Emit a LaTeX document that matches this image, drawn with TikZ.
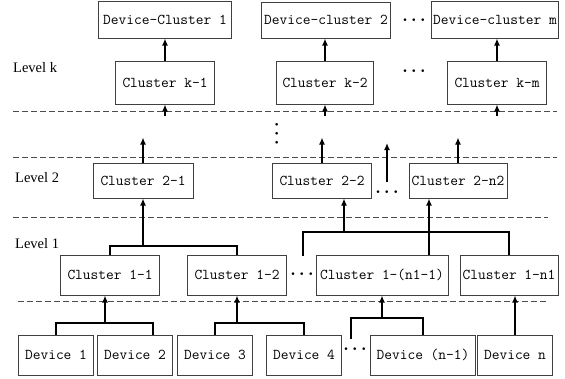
\documentclass[tikz,border=0pt]{standalone}
\usepackage{fontspec}
\newfontfamily\levelfont{Liberation Serif}
\usetikzlibrary{arrows.meta}

\tikzset{
  box/.style={draw=black!75, line width=1pt, inner sep=0pt,
    minimum height=40pt, font=\ttfamily\fontsize{15}{18}\selectfont},
  up/.style={-{Latex[length=7pt,width=6pt]}, line width=1.9pt},
  bar/.style={line width=1.9pt},
  sep/.style={black!70, line width=0.9pt, dash pattern=on 6pt off 3pt},
  lvl/.style={font=\levelfont\fontsize{14.5}{16}\selectfont, anchor=west, inner sep=0pt},
  more/.style={font=\fontsize{19}{20}\selectfont\boldmath, inner sep=0pt}
}

\begin{document}
\begin{tikzpicture}[x=1pt, y=-1pt]
\useasboundingbox (0,0) rectangle (565,378);

% level separators
\draw[sep] (13,111) -- (557,111);
\draw[sep] (13,157) -- (557,157);
\draw[sep] (13,217) -- (548,217);
\draw[sep] (18,301) -- (547,301);

\node[lvl] (lk) at (13,68) {Level k};
\node[lvl] (l2) at (15,178) {Level 2};
\node[lvl] (l1) at (15,244) {Level 1};

% device clusters
\node[box, minimum width=133pt, minimum height=37pt] (dc1) at (165,19.5) {Device-Cluster 1};
\node[box, minimum width=129pt, minimum height=36pt] (dc2) at (326,20) {Device-cluster 2};
\node[box, minimum width=127pt, minimum height=37pt] (dcm) at (495,19.5) {Device-cluster m};
\node[more] (dt) at (414,20) {$\cdots$};

% level k
\node[box, minimum width=99pt, minimum height=43pt] (ck1) at (165,82.5) {Cluster k-1};
\node[box, minimum width=97pt, minimum height=43pt] (ck2) at (325,82.5) {Cluster k-2};
\node[box, minimum width=99pt, minimum height=43pt] (ckm) at (497,82.5) {Cluster k-m};
\node[more] (kt) at (414,71) {$\cdots$};

\draw[up] (ck1.north) -- (ck1.north |- dc1.south);
\draw[up] (ck2.north) -- (ck2.north |- dc2.south);
\draw[up] (ckm.north) -- (ckm.north |- dcm.south);

\coordinate (ik1) at (165,116);
\coordinate (ik2) at (325,116);
\coordinate (ikm) at (497,116);
\draw[up] (ik1) -- (ik1 |- ck1.south);
\draw[up] (ik2) -- (ik2 |- ck2.south);
\draw[up] (ikm) -- (ikm |- ck1.south);

\node[more, rotate=90] (vt) at (277,134) {$\cdots$};

% level 2
\node[box, minimum width=100pt, minimum height=35pt] (c21) at (143,180.5) {Cluster 2-1};
\node[box, minimum width=99pt, minimum height=35pt] (c22) at (322,180.5) {Cluster 2-2};
\node[box, minimum width=98pt, minimum height=35pt] (c2n) at (458,180.5) {Cluster 2-n2};
\node[more] (t2) at (387,192) {$\cdots$};

\draw[up] (c21.north) -- ++(0,-25);
\draw[up] (c22.north) -- ++(0,-25);
\draw[up] (c2n.north) -- ++(0,-25);
\coordinate (om) at (387,182);
\draw[up] (om) -- ++(0,-39);

% level 1
\node[box, minimum width=99pt] (c11) at (110,275) {Cluster 1-1};
\node[box, minimum width=99pt] (c12) at (237,275) {Cluster 1-2};
\node[box, minimum width=132pt] (c1m) at (382,275) {Cluster 1-(n1-1)};
\node[box, minimum width=98pt] (c1n) at (509,275) {Cluster 1-n1};
\node[more] (t1) at (302,274) {$\cdots$};

\coordinate (j21) at (143,246);
\draw[bar] (c11.north) |- (j21) -| (c12.north);
\draw[up] (j21) -- (c21.south);

\coordinate (jl) at (303,256);
\coordinate (j22) at (344,232);
\coordinate (j2n) at (429,232);
\draw[bar] (jl) |- (c1n.north |- 0,232) -- (c1n.north);
\draw[up] (j22) -- (j22 |- c22.south);
\draw[up] (j2n |- c1m.north) -- (j2n |- c2n.south);

% devices
\node[box, minimum width=75pt] (d1) at (56,355) {Device 1};
\node[box, minimum width=75pt] (d2) at (135,355) {Device 2};
\node[box, minimum width=75pt] (d3) at (215,355) {Device 3};
\node[box, minimum width=75pt] (d4) at (304,355) {Device 4};
\node[box, minimum width=105pt] (dm) at (423,355) {Device (n-1)};
\node[box, minimum width=75pt] (dn) at (515,355) {Device n};
\node[more] (td) at (355,349) {$\cdots$};

\draw[bar] (d1.north) |- (153,323) -- (153,0 |- d2.north);
\draw[up] (105,323) -- (105,0 |- c11.south);
\draw[bar] (d3.north) |- (d4.north |- 0,323) -- (d4.north);
\draw[up] (c12.south |- 0,323) -- (c12.south);
\coordinate (jd) at (351,339);
\draw[bar] (jd) |- (dm.north |- 0,318) -- (dm.north);
\draw[up] (c1m.south |- 0,318) -- (c1m.south);
\draw[up] (dn.north) -- (dn.north |- c1n.south);

\end{tikzpicture}
\end{document}
